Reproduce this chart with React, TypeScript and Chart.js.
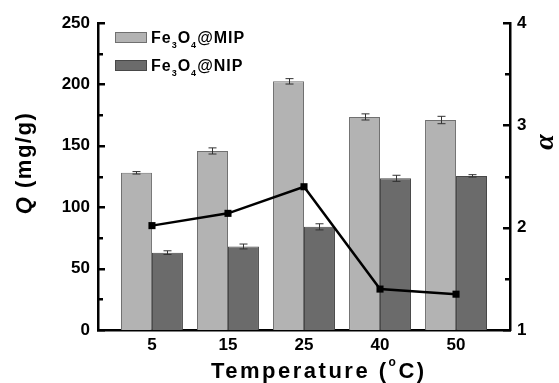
import React, { useEffect, useRef } from "react";
import { Chart, registerables } from "chart.js";

Chart.register(...registerables);

const categories = ["5", "15", "25", "40", "50"];
const mipValues = [128, 145.8, 202.5, 173.5, 171];
const mipErrors = [1, 2.5, 2.2, 2.5, 3];
const nipValues = [63, 68, 84, 123.5, 125.5];
const nipErrors = [1.5, 2, 2.5, 2.5, 1];
const alphaValues = [2.02, 2.14, 2.4, 1.4, 1.35];
const qMajorStep = 50;
const qMinorStep = 25;
const alphaMajorStep = 1;
const alphaMinorStep = 0.5;

const FONT = "'Liberation Sans', Arial, sans-serif";

function drawTicks(chart: any) {
  const ctx = chart.ctx;
  const y = chart.scales.y;
  const y2 = chart.scales.y2;
  const left = y.right;
  const right = y2.left;
  ctx.save();
  ctx.fillStyle = "#000";
  const nQ = Math.round((y.max - y.min) / qMinorStep);
  for (let k = 0; k <= nQ; k++) {
    const v = y.min + k * qMinorStep;
    const p = Math.round(y.getPixelForValue(v));
    const len = k % 2 === 0 ? 7 : 5;
    ctx.fillRect(left - 1, p - 1, len + 1, 2.5);
  }
  const nA = Math.round((y2.max - y2.min) / alphaMinorStep);
  for (let k = 0; k <= nA; k++) {
    const v = y2.min + k * alphaMinorStep;
    const p = Math.round(y2.getPixelForValue(v));
    const len = k % 2 === 0 ? 7 : 5;
    ctx.fillRect(right - len, p - 1, len + 1, 2.5);
  }
  ctx.restore();
}

const customPlugin = {
  id: "custom",
  afterDatasetsDraw(chart: any) {
    const ctx = chart.ctx;
    const y = chart.scales.y;
    ctx.save();
    ctx.strokeStyle = "#333";
    ctx.lineWidth = 1;
    const errs = [mipErrors, nipErrors];
    const vals = [mipValues, nipValues];
    [1, 2].forEach((di, k) => {
      const meta = chart.getDatasetMeta(di);
      meta.data.forEach((bar: any, i: number) => {
        const x = Math.round(bar.x) + 0.5;
        const top = y.getPixelForValue(vals[k][i] + errs[k][i]);
        const bot = y.getPixelForValue(vals[k][i] - errs[k][i]);
        ctx.beginPath();
        ctx.moveTo(x, top);
        ctx.lineTo(x, bot);
        ctx.moveTo(x - 4, top);
        ctx.lineTo(x + 4, top);
        ctx.moveTo(x - 4, bot);
        ctx.lineTo(x + 4, bot);
        ctx.stroke();
      });
    });
    ctx.restore();
  },
  afterDraw(chart: any) {
    const ctx = chart.ctx;
    drawTicks(chart);
    ctx.save();
    ctx.fillStyle = "#000";
    ctx.textBaseline = "alphabetic";
    ctx.textAlign = "left";

    // legend
    const legendItems = [
      { label: "MIP", fill: "#b3b3b3", border: "#707070", base: 43 },
      { label: "NIP", fill: "#6b6b6b", border: "#484848", base: 71 },
    ];
    legendItems.forEach((it) => {
      ctx.fillStyle = it.fill;
      ctx.fillRect(115, it.base - 11, 32, 11);
      ctx.strokeStyle = it.border;
      ctx.lineWidth = 1;
      ctx.strokeRect(115.5, it.base - 10.5, 31, 10);
      ctx.fillStyle = "#000";
      let x = 151;
      const big = `bold 16px ${FONT}`;
      const small = `bold 9px ${FONT}`;
      (ctx as any).letterSpacing = "1px";
      const parts: [string, boolean][] = [
        ["Fe", false],
        ["3", true],
        ["O", false],
        ["4", true],
        ["@" + it.label, false],
      ];
      parts.forEach(([t, sub]) => {
        ctx.font = sub ? small : big;
        ctx.fillText(t, x, sub ? it.base + 5 : it.base);
        x += ctx.measureText(t).width;
      });
    });

    // x title
    (ctx as any).letterSpacing = "2.5px";
    ctx.fillStyle = "#000";
    let x = 211;
    const base = 378;
    ctx.font = `bold 22px ${FONT}`;
    ctx.fillText("Temperature (", x, base);
    x += ctx.measureText("Temperature (").width;
    ctx.font = `bold 12px ${FONT}`;
    ctx.fillText("o", x, base - 12);
    x += ctx.measureText("o").width;
    ctx.font = `bold 22px ${FONT}`;
    ctx.fillText("C)", x, base);

    // y title
    (ctx as any).letterSpacing = "1.5px";
    ctx.save();
    ctx.translate(31, 163);
    ctx.rotate(-Math.PI / 2);
    ctx.font = `italic bold 22px ${FONT}`;
    const wq = ctx.measureText("Q").width;
    ctx.font = `bold 22px ${FONT}`;
    const wr = ctx.measureText(" (mg/g)").width;
    let sx = -(wq + wr) / 2;
    ctx.font = `italic bold 22px ${FONT}`;
    ctx.fillText("Q", sx, 0);
    sx += wq;
    ctx.font = `bold 22px ${FONT}`;
    ctx.fillText(" (mg/g)", sx, 0);
    ctx.restore();

    // alpha title
    (ctx as any).letterSpacing = "0px";
    ctx.save();
    ctx.translate(553, 142);
    ctx.rotate(-Math.PI / 2);
    ctx.font = `italic bold 28px 'Liberation Serif', 'DejaVu Serif', serif`;
    ctx.textAlign = "center";
    ctx.fillText("α", 0, 0);
    ctx.restore();

    ctx.restore();
  },
};

export default function App() {
  const ref = useRef<HTMLCanvasElement>(null);
  useEffect(() => {
    if (!ref.current) return;
    const tickFont = { family: FONT, size: 17, weight: "bold" as const };
    const chart = new Chart(ref.current, {
      type: "bar",
      data: {
        datasets: [
          {
            type: "line" as const,
            label: "alpha",
            data: alphaValues.map((v, i) => ({ x: i, y: v })),
            yAxisID: "y2",
            borderColor: "#000",
            backgroundColor: "#000",
            borderWidth: 2.5,
            pointStyle: "rect",
            pointRadius: 5,
            pointBorderWidth: 0,
            order: 0,
          } as any,
          {
            label: "Fe3O4@MIP",
            data: mipValues.map((v, i) => ({ x: i, y: v })),
            backgroundColor: "#b3b3b3",
            borderColor: "#707070",
            borderWidth: 1,
            yAxisID: "y",
            order: 1,
          },
          {
            label: "Fe3O4@NIP",
            data: nipValues.map((v, i) => ({ x: i, y: v })),
            backgroundColor: "#6b6b6b",
            borderColor: "#484848",
            borderWidth: 1,
            yAxisID: "y",
            order: 1,
          },
        ],
      },
      options: {
        animation: false,
        responsive: true,
        maintainAspectRatio: false,
        layout: { padding: { top: 23, left: 0, right: 0, bottom: 0 } },
        plugins: { legend: { display: false }, tooltip: { enabled: false } },
        datasets: { bar: { categoryPercentage: 0.815, barPercentage: 1 } },
        scales: {
          x: {
            type: "linear",
            min: -0.71,
            max: 4.71,
            offset: false,
            grid: { display: false, drawTicks: false },
            border: { display: true, color: "#000", width: 2.5 },
            afterBuildTicks: (s: any) => {
              s.ticks = categories.map((_, i) => ({ value: i }));
            },
            afterFit: (s: any) => {
              s.height = 53;
            },
            ticks: {
              color: "#000",
              font: tickFont,
              padding: 5,
              maxRotation: 0,
              autoSkip: false,
              callback: (v: any) => categories[v] ?? "",
            },
          },
          y: {
            type: "linear",
            position: "left",
            min: 0,
            max: 250,
            grid: { display: false, drawTicks: false },
            border: { display: true, color: "#000", width: 2.5 },
            ticks: { stepSize: qMajorStep, color: "#000", font: tickFont, padding: 8 },
            afterFit: (s: any) => {
              s.width = 98;
            },
          },
          y2: {
            type: "linear",
            position: "right",
            min: 1,
            max: 4,
            grid: { display: false, drawTicks: false },
            border: { display: true, color: "#000", width: 2.5 },
            ticks: { stepSize: alphaMajorStep, color: "#000", font: tickFont, padding: 7 },
            afterFit: (s: any) => {
              s.width = 49;
            },
          },
        },
      } as any,
      plugins: [customPlugin],
    });
    return () => chart.destroy();
  }, []);
  return (
    <div style={{ position: "fixed", left: 0, top: 0, width: 559, height: 383, background: "#fff" }}>
      <canvas ref={ref} />
    </div>
  );
}
